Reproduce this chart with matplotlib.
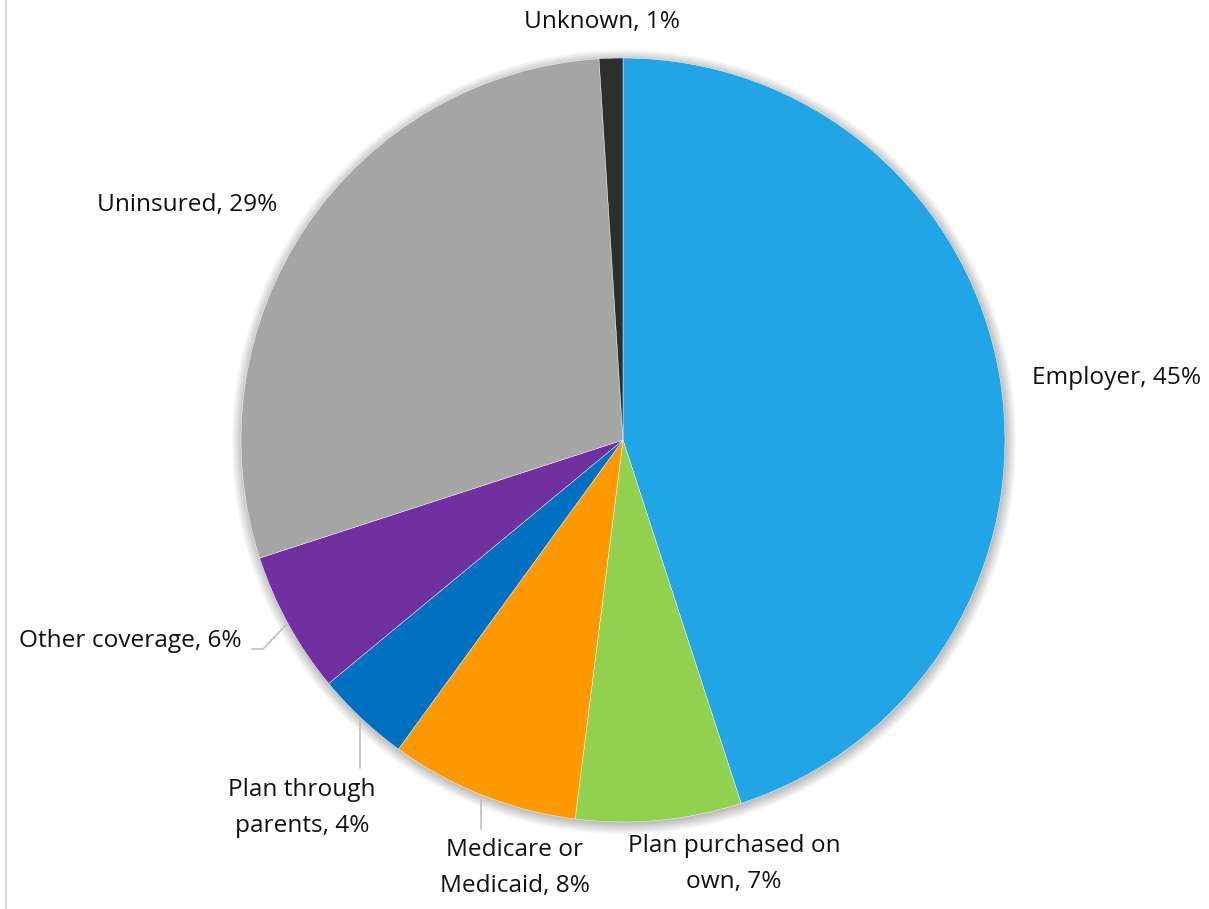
import numpy as np
import matplotlib.pyplot as plt
from matplotlib.patches import Circle
from matplotlib.lines import Line2D

plt.rcParams['font.family'] = ['Open Sans', 'DejaVu Sans']

# Source of health coverage
categories = ['Employer', 'Plan purchased on own', 'Medicare or Medicaid',
              'Plan through parents', 'Other coverage', 'Uninsured', 'Unknown']
shares = [45, 7, 8, 4, 6, 29, 1]
colors = ['#22A5E6', '#92D050', '#FF9900', '#0070C0', '#7030A0', '#A5A5A5', '#2E2E2E']

# label text (line breaks) and where each label sits, in pixels from top-left
label_names = ['Employer', 'Plan purchased on\nown', 'Medicare or\nMedicaid',
               'Plan through\nparents', 'Other coverage', 'Uninsured', 'Unknown']
label_pos = [(1117, 378), (734, 864), (515, 868), (302, 808), (130, 641), (187, 205), (602, 22)]

W, H = 1209, 909
cx, cy, r = 623, 440, 382

fig = plt.figure(figsize=(W / 100, H / 100), dpi=100)
ax = fig.add_axes([0, 0, 1, 1])

# soft shadow round the pie
for k in range(16):
    ax.add_patch(Circle((cx + 1, H - cy - 2), r + k * 0.7, color='black',
                        alpha=0.016, lw=0, zorder=0))

ax.pie(shares, colors=colors, startangle=90, counterclock=False,
       center=(cx, H - cy), radius=r, frame=True,
       wedgeprops=dict(linewidth=0.3, edgecolor='white'))
ax.set_xlim(0, W)
ax.set_ylim(0, H)
ax.set_aspect('equal')
ax.axis('off')

for name, val, (x, y) in zip(label_names, shares, label_pos):
    ax.text(x, H - y, f'{name}, {val}%', ha='center', va='center',
            fontsize=17.6, color='#111111', linespacing=1.7)

# leader lines for the small slices
lc = '#BFBFBF'
ax.add_line(Line2D([252, 263, 286], [H - 649, H - 649, H - 625], color=lc, lw=1.2))
ax.add_line(Line2D([360, 360], [H - 718, H - 768], color=lc, lw=1.2))
ax.add_line(Line2D([481, 481], [H - 800, H - 829], color=lc, lw=1.2))

# chart area border on the left
fig.add_artist(Line2D([6 / W, 6 / W], [0, 1], color='#D9D9D9', lw=1.5))

fig.savefig('out.png', dpi=100, facecolor='white')
